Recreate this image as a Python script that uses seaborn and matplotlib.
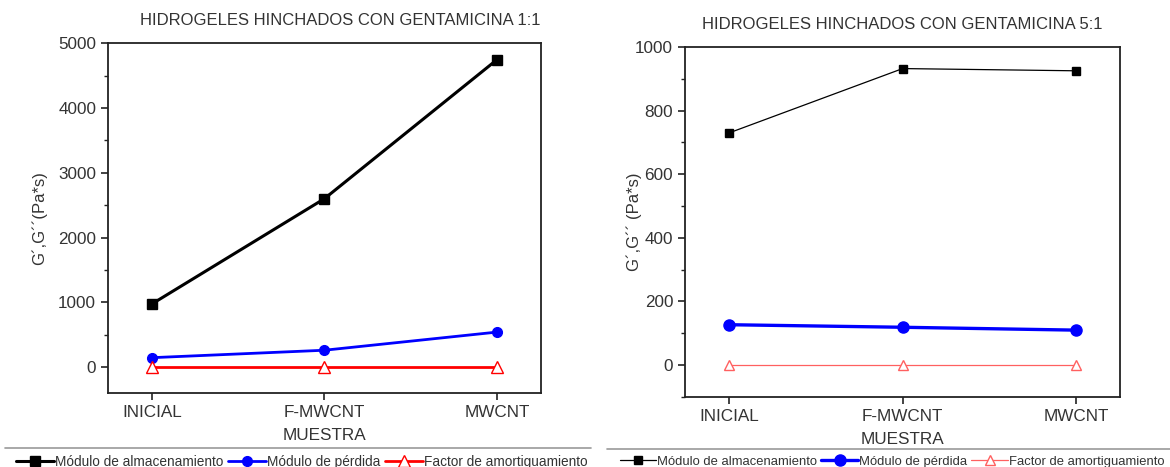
import numpy as np
import pandas as pd
import matplotlib
matplotlib.use("Agg")
import matplotlib.pyplot as plt
import seaborn as sns
from matplotlib.lines import Line2D
from matplotlib.ticker import MultipleLocator

muestras = ["INICIAL", "F-MWCNT", "MWCNT"]
series = ["Módulo de almacenamiento", "Módulo de pérdida", "Factor de amortiguamiento"]

# 1:1
almac_11 = [975, 2600, 4745]
perdida_11 = [145, 260, 540]
amort_11 = [0, 0, 0]

# 5:1
almac_51 = [730, 932, 925]
perdida_51 = [127, 119, 110]
amort_51 = [0, 0, 0]

sns.set_style("white")
plt.rcParams["font.family"] = ["Liberation Sans", "DejaVu Sans"]
txt = "#333333"

fig = plt.figure(figsize=(11.7, 4.67), dpi=100)
ax1 = fig.add_axes([0.0923, 0.1585, 0.370, 0.749])
ax2 = fig.add_axes([0.5855, 0.150, 0.372, 0.7495])


def panel(ax, vals, styles, title, ylabel, ylim, major, minor):
    for name, v, st in zip(series, vals, styles):
        df = pd.DataFrame({"muestra": muestras, "valor": v})
        sns.lineplot(data=df, x="muestra", y="valor", sort=False, ax=ax,
                     color=st["color"], lw=st["lw"], marker=st["marker"],
                     markersize=st["ms"], markerfacecolor=st["mfc"],
                     markeredgecolor=st["mec"], markeredgewidth=1,
                     label=name, legend=False)
    ax.set_xlim(-0.255, 2.255)
    ax.set_ylim(*ylim)
    ax.yaxis.set_major_locator(MultipleLocator(major))
    ax.yaxis.set_minor_locator(MultipleLocator(minor))
    ax.tick_params(axis="both", which="major", direction="out", length=5,
                   width=1.2, colors="#222222", labelcolor=txt, labelsize=12.3,
                   bottom=True, left=True, pad=3.5)
    ax.tick_params(axis="y", which="minor", direction="out", length=3,
                   width=1, color="#222222", left=True)
    for s in ax.spines.values():
        s.set_color("#222222")
        s.set_linewidth(1.3)
    ax.set_title(title, fontsize=12, color=txt, pad=13)
    ax.set_xlabel("MUESTRA", fontsize=12.3, color=txt, labelpad=6)
    ax.set_ylabel(ylabel, fontsize=12, color=txt)


styles_11 = [
    dict(color="black", lw=2.2, marker="s", ms=6.5, mfc="black", mec="black"),
    dict(color="blue", lw=2.0, marker="o", ms=7, mfc="blue", mec="blue"),
    dict(color="red", lw=2.0, marker="^", ms=8, mfc="white", mec="red"),
]
styles_51 = [
    dict(color="black", lw=0.9, marker="s", ms=6, mfc="black", mec="black"),
    dict(color="blue", lw=2.4, marker="o", ms=8, mfc="blue", mec="blue"),
    dict(color="#ff6060", lw=0.9, marker="^", ms=7, mfc="white", mec="#ff6060"),
]

panel(ax1, [almac_11, perdida_11, amort_11], styles_11,
      "HIDROGELES HINCHADOS CON GENTAMICINA 1:1", "G´,G´´(Pa*s)",
      (-400, 5000), 1000, 500)
panel(ax2, [almac_51, perdida_51, amort_51], styles_51,
      "HIDROGELES HINCHADOS CON GENTAMICINA 5:1", "G´,G´´ (Pa*s)",
      (-100, 1000), 200, 100)
ax1.title.set_position((0.537, 1.0))
ax1.yaxis.set_label_coords(-0.14, 0.5)
ax2.yaxis.set_label_coords(-0.098, 0.5)

# separator lines above the legends
fig.add_artist(Line2D([0.004, 0.505], [0.041, 0.041], color="#999999", lw=1.2,
                      transform=fig.transFigure))
fig.add_artist(Line2D([0.519, 1.0], [0.039, 0.039], color="#999999", lw=1.2,
                      transform=fig.transFigure))

for ax, anchor, loc, fs in [(ax1, (0.258, 0.011), "center", 9.8),
                            (ax2, (0.524, 0.011), "center left", 9.4)]:
    h, l = ax.get_legend_handles_labels()
    fig.legend(h, l, loc=loc, bbox_to_anchor=anchor, ncol=3, frameon=False,
               fontsize=fs, handlelength=2.8, handletextpad=0.1,
               columnspacing=0.3, labelcolor=txt, borderpad=0)

fig.savefig("out.png", dpi=100)
